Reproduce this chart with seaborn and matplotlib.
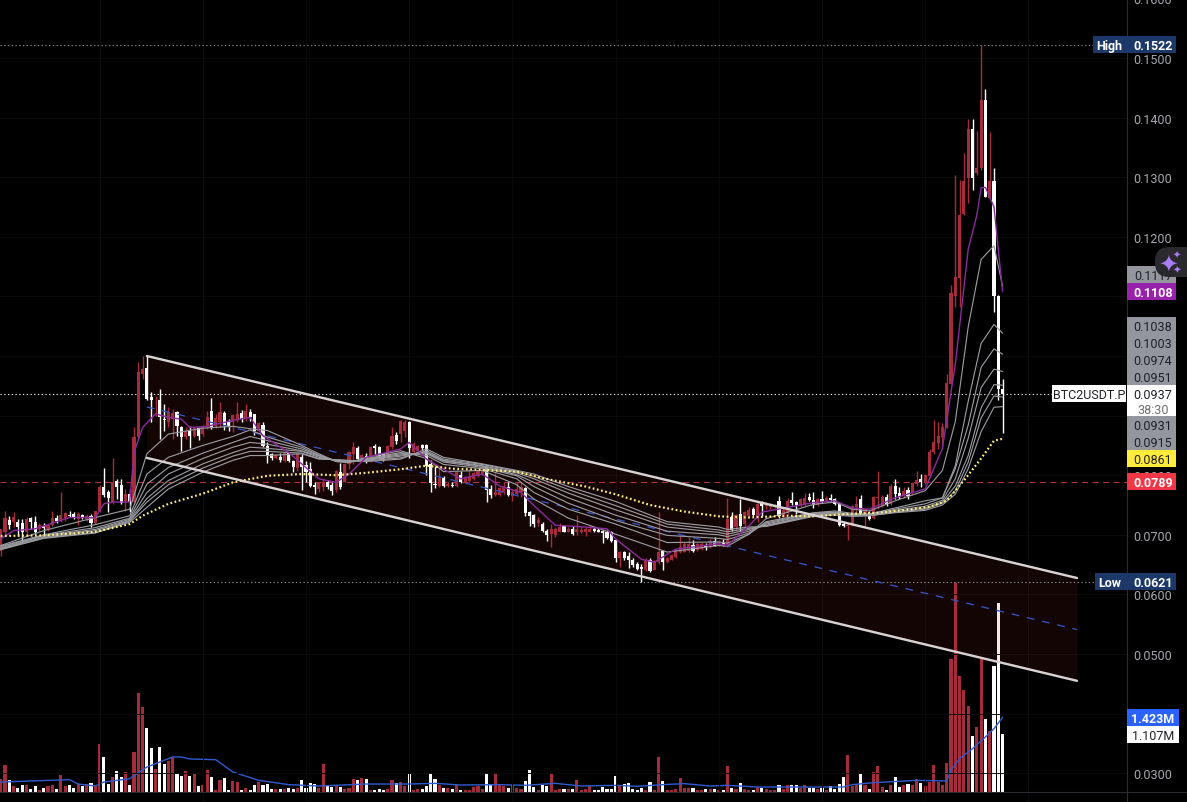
import numpy as np
import pandas as pd
import matplotlib
matplotlib.use("Agg")
import matplotlib.pyplot as plt
import seaborn as sns
from matplotlib.patches import Rectangle, FancyBboxPatch

# ---------- data (prices are written in units of 0.0001) ----------
opens = [673.5,704.3,724.9,722.2,722.2,720,704.3,727.8,722.2,709.9,
715.5,709.9,716.6,728.3,723.8,728.3,733.9,735,726.6,732.8,
726.6,732.2,720,739.5,779.7,771.4,754.6,789.8,783.7,757.4,
768.6,754.6,863.6,969.8,979.9,931.8,924,926.2,894.3,888.8,
894.3,906.6,880.4,863.6,874.8,866.4,879.2,869.2,880.4,908.3,
883.2,888.8,904.4,888.8,888.8,894.3,904.4,894.3,905.5,902.2,
874.8,884.3,849.6,835.6,828.4,831.2,824.5,838.4,824.5,811.6,
831.2,817.2,810.5,784.2,777,780.9,788.1,784.2,775.8,804.9,
789.3,818.9,835.6,845.7,827.3,832.9,827.3,848.5,846.8,835.6,
828.4,846.8,867.5,869.1,874.7,888.7,839.5,841.2,850.7,850.7,
818.8,785.3,781.3,794.8,781.3,783.6,781.3,800.3,788,790.8,
793.6,798.1,802,813.2,776.9,766.8,766.8,771.3,779.7,765.7,
768.5,772.4,778,737.7,733.8,719.8,718.2,707,701.4,699.7,
705.3,714.3,705.3,709.8,704.2,704.2,705.3,705.3,709.8,708.7,
705.9,705.3,704.2,691.3,660.6,670.7,664,658.4,651.1,645.5,
641.6,658.4,641.6,653.9,673.5,653.9,658.4,662.3,671.8,671.8,
673.5,683.5,675.1,676.3,683.5,679,690.2,681.8,686.3,681.8,
729.4,712.6,734.9,718.2,731,743.3,730.5,753.4,747.8,746.1,
746.1,757.3,730,736.8,758.4,755.6,748.2,749.3,764,758.4,
749.3,759.5,756.7,762.3,760.6,752.7,718.6,714.1,717,747,
759.5,735.7,736.8,728.3,762.3,748.2,764,751,782.2,770.9,
766.3,775.4,769.7,785,793.6,786.8,798.1,839,854.8,864.5,
879.8,953.6,1100,1131.2,1237.8,1298.5,1380.8,1307.1,1315.6,1429,1265.6,1294,1100,945]

closes = [709.9,728.3,717.1,730.5,712.7,705.4,726.6,721,705.4,717.1,
711,717.1,728.3,722.7,733.9,736.7,732.2,728.3,735,729.4,
732.2,720,740.6,779.7,767.4,761.9,789.3,780.3,753.5,768.6,
754.6,863.6,972.6,978.2,927.9,926.2,925.1,898.2,892.7,905.5,
904.4,882,864.7,874.8,866.4,878.7,866.4,882,897.1,880.4,
895.5,906.6,884.3,883.2,901,902.2,894.3,908.3,897.7,874.8,
887.6,849.6,834.5,828.4,834,826.1,838.4,823.3,813.3,835.6,
813.3,806,782.5,779.7,787,788.1,779.7,774.2,807.7,779.7,
818.9,839.6,846.8,827.3,834.5,824.5,847.9,845.1,831.7,828.4,
849.6,866.4,856.9,891.5,888.7,845.1,852.3,849.5,845.1,816,
786.9,783.6,794.8,781.3,785.3,781.3,804.8,789.2,796.4,796.4,
803.7,807.6,808.7,775.8,766.8,771.3,778,779.7,766.8,771.3,
776.9,779.7,736.6,732.2,718.2,725.4,707,699.7,709.8,709.8,
712.6,705.3,709.8,700.8,709.8,708.7,709.8,709.8,707,705.3,
703.1,694.7,690.2,660.6,670.7,660.6,658.4,650,642.7,642.7,
658.4,639.4,656.7,671.8,653.9,660.6,666.2,675.1,679,684.6,
684.6,672.3,684.6,684.6,679,690.2,681.8,687.4,683.5,726.6,
708.7,733.3,715.4,737.7,741.6,733.8,751.7,747.8,751.7,750,
748.9,731,741.3,756.7,752.7,749.3,759.5,762.3,758.4,749.3,
760.6,755,762.3,758.4,752.1,717,714.1,717,748.2,751,
735.7,742.5,727.2,764,764,764,751,782.2,768,764,
773.7,765.2,786.8,792.4,787.9,800.4,839,856,865.6,881.5,
955.3,1105.6,1132.9,1236.1,1294,1380.8,1298.5,1315.6,1429,1267.3,1292.9,1100,943.9,937]

highs = [709.9,740.6,732.2,737.8,726.6,726.6,729.4,730.5,732.2,719.4,
719.4,718.3,740.6,733.9,771.4,737.8,740.6,737.8,737.8,735,
735,735,740.6,784.2,811.6,775.8,828.4,793.7,793.7,777,
777,880.4,989.4,1000.6,1000.6,939,932.4,944.6,919.5,913.9,
911.1,908.3,883.2,880.4,883.2,880.4,880.4,884.3,908.3,929,
902.7,922.3,908.3,894.3,902.7,922.3,910,919.5,911.1,902.7,
888.8,888.8,855.2,836.8,835.6,837.3,841.2,839.5,826.1,838.4,
835.6,824.5,821.7,788.1,788.1,793.7,792,788.1,808.8,820,
820,841.2,855.2,848.5,835.6,836.8,849.6,851.9,849.6,836.8,
850.7,880.4,872,893.1,893.1,891.5,855.1,850.7,852.3,852.3,
825.5,816,813.2,798.1,788,788,809.3,807,798.1,810.4,
806,809.3,810.4,816,783.6,804.8,779.7,788,788,776.9,
788,789.2,779.7,740.5,734.9,729.4,721,709.8,718.2,712.6,
719.8,716.5,712.6,714.3,733.3,714.3,712.6,716.5,712.6,710.9,
708.1,708.1,707,693,673.5,673.5,671.8,660.6,653.9,651.1,
660.6,660.6,658.4,737.7,675.1,662.3,667.9,676.3,698.6,688.5,
695.8,691.9,686.3,687.4,686.3,693,695.8,691.9,693,761.8,
737.7,734.9,760.1,740.5,746.1,746.1,754.5,757.3,755.6,753.4,
751.7,765.7,745.3,762.3,772,756.7,762.3,769.7,770.9,772,
762.3,773.7,765.2,768,762.3,755,722.6,719.8,749.3,765.2,
766.3,745.3,739.6,765.2,807.7,766.3,768,785,793.6,779.4,
779.4,779.4,787.9,807.7,802.1,802.1,844.6,892.9,890,887.2,
969.4,1119.8,1304.2,1295.7,1341.1,1397.8,1397.8,1378,1522,1447.2,1375.1,1315.6,1102.8,962.1]

lows = [665.2,698.7,709.9,712.7,698.7,688.6,698.7,709.9,701.5,707.1,
698.7,707.1,715.5,719.9,721,723.8,729.4,726.6,716.6,726.6,
723.8,713.8,718.3,737.8,763,738.9,751.8,760.2,751.8,740.6,
737.8,751.8,861.9,961.4,926.8,888.8,899.9,860.8,874.8,880.4,
860.8,866.4,841.2,860.8,845.7,863.6,859.7,866.4,877.6,877.6,
878.7,880.4,876.5,874.8,872,888.8,888.8,891.5,891.5,867.5,
872,846.8,820.5,826.1,827.3,821.7,822.8,821.7,804.9,807.7,
775.8,788.1,779.7,768.6,771.4,774.2,777,766.9,771.4,777,
788.1,810.5,818.9,824.5,824.5,820.5,822.8,835.6,828.4,824.5,
827.3,844,852.4,855.1,863.5,828.3,835.6,838.4,842.8,800.3,
772.4,778,779.7,779.7,779.7,779.7,779.7,786.9,786.9,788,
792,796.4,800.3,755.6,761.2,765.7,765.7,768.5,764.6,757.3,
765.7,762.9,731,714.3,712.6,715.4,705.3,690.2,679,695.8,
704.2,704.2,704.2,699.7,699.7,703.1,698.6,704.2,704.2,704.2,
686.3,693,688.5,653.9,645.5,658.4,643.8,645.5,641.6,621,
639.9,637.1,640.5,651.1,641.6,652.8,657.2,660.6,669.5,670.7,
671.8,670.7,673.5,675.1,675.1,677.9,680.7,680.7,680.7,679,
707,707,707,712.6,729.4,731,721,731,743.3,743.3,
744.4,727.7,728.3,735.7,749.3,735.7,747,748.2,756.7,745.3,
748.2,753.8,755.6,755.6,749.3,714.1,712.4,691.4,715.3,731.1,
731.1,715.3,725.5,726.6,742.5,747,748.2,749.3,759.5,760.6,
762.3,759.5,768,782.2,779.4,785,796.4,836.1,844.6,847.5,
878.7,952.4,1082.9,1082.9,1236.1,1256,1278.7,1304.2,1312.7,1266.2,1261.7,1074.4,926.9,870.2]

# volume in millions
volumes = [.254,.521,.235,.108,.083,.127,.140,.063,.108,.044,
.083,.108,.140,.063,.330,.108,.127,.083,.152,.108,
.152,.178,.127,.921,.667,.159,.286,.406,.286,.387,
.140,.768,1.892,1.625,1.225,.844,.444,.863,.540,.584,
.667,.349,.311,.406,.311,.349,.108,.140,.425,.292,
.044,.235,.273,.044,.216,.197,.044,.083,.044,.140,
.197,.140,.159,.063,.063,.063,.063,.083,.063,.083,
.235,.083,.178,.159,.083,.540,.140,.102,.140,.102,
.063,.083,.254,.235,.273,.254,.044,.044,.063,.044,
.063,.235,.178,.197,.121,.368,.044,.063,.063,.121,
.368,.254,.140,.083,.083,.063,.140,.044,.044,.044,
.102,.121,.063,.368,.159,.349,.140,.121,.083,.140,
.083,.063,.216,.425,.102,.044,.140,.121,.349,.044,
.063,.063,.063,.063,.235,.044,.063,.121,.044,.044,
.102,.063,.063,.311,.140,.159,.178,.063,.044,.083,
.044,.197,.044,.673,.216,.044,.044,.063,.273,.083,
.083,.083,.044,.044,.063,.063,.063,.044,.044,.502,
.083,.063,.178,.063,.044,.044,.095,.083,.063,.044,
.044,.140,.063,.140,.140,.140,.083,.140,.083,.083,
.063,.083,.044,.121,.063,.159,.292,.711,.121,.159,
.349,.140,.063,.387,.502,.102,.044,.140,.292,.102,
.140,.159,.140,.254,.178,.121,.197,.521,.197,.140,
.559,2.540,3.987,2.216,1.949,1.644,1.073,1.244,2.559,1.397,1.168,2.406,3.606,1.107]

vol_ma_idx = [0,16,18,22,24,30,34,38,40,42,44,50,54,60,67,74,85,95,101,107,116,122,129,135,143,148,154,159,165,169,176,182,196,198,203,213,220,221,223,226,229,231,233]
vol_ma = [.19,.235,.152,.114,.19,.254,.476,.603,.667,.667,.629,.616,.381,.222,.140,.114,.152,.152,.165,.133,.140,.127,.165,.114,.127,.108,.14,.159,.114,.127,.095,.095,.095,.140,.178,.222,.21,.413,.635,.825,1.048,1.206,1.423]

ribbon_idx = [0,10,22,30,34,39,47,54,58,62,70,74,78,81,85,93,99,103,112,120,124,132,143,155,167,169,174,178,189,194,198,202,208,215,219,222,225,228,231,233]
ribbon_1 = [682,707,729,743,836,869,879,882,878,875,850,836,823,821,830,841,828,806,808,784,760,728,701,671,682,681,701,727,751,755,743,740,757,774,808,890,1049,1162,1185,1117]
ribbon_2 = [681,700,717,732,802,830,850,865,876,864,847,834,823,822,828,838,833,818,811,794,771,743,718,687,688,686,701,722,737,740,736,735,745,757,762,816,924,1021,1053,1038]
ribbon_3 = [680,699,712,728,785,813,837,855,865,858,844,833,824,822,827,836,836,822,813,799,781,753,724,699,694,692,703,720,736,738,734,734,743,752,762,811,884,981,1012,1003]
ribbon_4 = [678,698,709,726,771,802,828,847,855,852,841,832,824,823,826,834,838,824,815,801,788,762,733,706,700,697,706,718,735,737,733,733,741,748,758,794,862,947,978,974]
ribbon_5 = [677,696,707,724,761,791,819,838,847,845,840,830,825,823,825,832,839,825,816,804,794,770,742,713,704,701,709,716,733,736,732,733,739,745,755,782,833,913,952,951]
ribbon_6 = [676,695,704,723,755,784,812,832,840,840,837,828,826,824,824,829,841,827,818,806,798,776,749,718,708,705,711,715,732,735,732,732,738,743,753,774,822,896,933,931]
ribbon_7 = [675,694,703,721,746,777,805,825,833,833,836,827,826,825,823,827,844,830,819,808,802,781,756,722,713,709,713,714,731,733,731,732,737,741,750,768,811,873,914,915]

fast_idx = [0,3,8,16,22,24,26,30,31,33,36,39,42,44,48,54,58,61,64,67,70,74,78,81,85,93,95,99,103,107,112,116,121,124,129,136,141,143,149,152,157,167,169,174,177,189,194,198,202,208,215,219,222,225,227,228,229,231,233]
fast_ma = [693,707,710,729,729,752,755,755,838,880,903,897,894,880,882,892,897,866,852,838,819,794,788,802,830,844,855,827,810,794,802,782,771,749,716,713,710,693,659,654,676,685,682,715,738,754,757,745,743,762,777,845,986,1179,1236,1282,1283,1250,1108]

slow_idx = [0,10,22,30,33,39,47,54,62,70,78,85,93,99,105,112,120,126,136,143,151,159,167,174,183,189,197,204,212,216,220,224,228,231,233]
slow_ma = [698,699,705,718,732,752,769,788,799,802,800,804,810,816,811,809,806,795,781,768,750,739,731,729,732,731,735,737,743,747,757,791,828,858,861]

channel_x = [34, 250.3]
channel_top = [1000, 627.5]
channel_mid = [914.5, 541]
channel_bot = [829, 455]

level_high, level_low, level_last, level_red = 1522, 621, 937, 789
price_ticks = [300,400,500,600,700,800,900,1000,1100,1200,1300,1400,1500,1600]
hidden_ticks = [900, 1000, 1100]  # covered by the value badges in the picture

# ---------- styling ----------
W, H = 1187, 803
RED, WHITE = "#a62c3c", "#ffffff"
sns.set_theme(style="dark", rc={"figure.facecolor": "black", "axes.facecolor": "black",
                                "savefig.facecolor": "black"})
plt.rcParams["font.family"] = ["Roboto", "DejaVu Sans"]
U = 1e-4
px = 0.72  # points per pixel at dpi 100

fig = plt.figure(figsize=(W / 100, H / 100), dpi=100)
rect = [0, 0, 1127 / W, 813 / H]
ax_vol = fig.add_axes(rect, zorder=1)
ax = fig.add_axes(rect, zorder=2)
ax.patch.set_alpha(0)

n = len(opens)
idx = np.arange(n)
df = pd.DataFrame({"i": idx, "o": opens, "h": highs, "l": lows, "c": closes, "v": volumes})
df[["o", "h", "l", "c"]] *= U
df["side"] = np.where(df.c >= df.o, "up", "down")
pal = {"up": RED, "down": WHITE}
cols = df.side.map(pal).to_numpy()

# volume pane
sns.barplot(data=df, x="i", y="v", hue="side", palette=pal, dodge=False, native_scale=True,
            width=0.72, legend=False, ax=ax_vol, saturation=1, linewidth=0)
sns.lineplot(x=vol_ma_idx, y=vol_ma, color="#2f5bd0", lw=1.4 * px, estimator=None,
             sort=False, ax=ax_vol, zorder=4)
xlim = (-0.163, 261.93)
ax_vol.set_xlim(*xlim)
ax_vol.set_ylim(-10 / 52.5, 803 / 52.5)
ax_vol.set_axis_off()

# faint grid
grid_x = list(range(23, 262, 24))
ax.set_xticks(grid_x)
ax.set_xticklabels([])
ax.set_yticks(np.array(price_ticks) * U)
ax.set_yticklabels(["" if t in hidden_ticks else f"{t * U:.4f}" for t in price_ticks])
ax.grid(True, color="#0b0b0d", lw=0.7, zorder=0)
ax.set_axisbelow(True)
ax.yaxis.tick_right()
ax.tick_params(axis="y", length=0, pad=4.6, labelsize=9.0, labelcolor="#a6a8ae")
ax.tick_params(axis="x", length=0)
for s in ("left", "top", "bottom"):
    ax.spines[s].set_visible(False)
ax.spines["right"].set_color("#2c2d33")
ax.spines["right"].set_linewidth(0.8)

# channel
ch_top, ch_mid, ch_bot = (np.array(a) * U for a in (channel_top, channel_mid, channel_bot))
ax.fill_between(channel_x, ch_bot, ch_top, color=(0.75, 0.2, 0.2), alpha=0.11, lw=0, zorder=1)

# reference levels
ax.axhline(level_red * U, color="#b5303f", lw=1.1 * px, ls=(0, (6 / 1.1, 4.5 / 1.1)), zorder=1.5)
ax.plot([xlim[0], (1052 - .7) / 4.3], [level_last * U] * 2, color="#e8e8e8", lw=1.1 * px,
        ls=(0, (1.2, 2.2)), zorder=1.5)
for lev in (level_high, level_low):
    ax.plot([xlim[0], (1094 - .7) / 4.3], [lev * U] * 2, color="#8c8c8c", lw=1.1 * px,
            ls=(0, (1.2, 2.2)), zorder=1.5)

# candles
ax.vlines(df.i, df.l, df.h, colors=cols, lw=1.4 * px, zorder=3)
ax.bar(df.i, np.abs(df.c - df.o).clip(lower=1.2e-4), bottom=np.minimum(df.c, df.o),
       width=0.72, color=cols, lw=0, zorder=3.2)

# ribbon & averages
for r in (ribbon_7, ribbon_6, ribbon_5, ribbon_4, ribbon_3, ribbon_2, ribbon_1):
    sns.lineplot(x=ribbon_idx, y=np.array(r) * U, color="#9a9ba0", lw=1.15 * px, estimator=None,
                 sort=False, ax=ax, zorder=4)
sns.lineplot(x=fast_idx, y=np.array(fast_ma) * U, color="#8a2c9c", lw=1.4 * px, estimator=None,
             sort=False, ax=ax, zorder=4.2)
sns.lineplot(x=slow_idx, y=np.array(slow_ma) * U, color="#fff07a", lw=2.2 * px, estimator=None,
             sort=False, ax=ax, zorder=4.3, linestyle=(0, (0.8, 1.15)))

# channel lines
sns.lineplot(x=channel_x, y=ch_mid, color="#3555c5", lw=1.3 * px, estimator=None, sort=False, ax=ax,
             zorder=3.6, linestyle=(0, (6, 6)))
for line in (ch_top, ch_bot):
    sns.lineplot(x=channel_x, y=line, color="#d9d2d2", lw=2.4 * px, estimator=None, sort=False,
                 ax=ax, zorder=5)

ax.set_xlim(*xlim)
ax.set_ylim(0.15 - 744 / 5960, 0.15 + 69 / 5960)
ax.set_xlabel("")
ax.set_ylabel("")

# ---------- price-scale badges on a pixel overlay ----------
ov = fig.add_axes([0, 0, 1, 1], zorder=10)
ov.set_xlim(0, W)
ov.set_ylim(H, 0)
ov.set_axis_off()
ov.patch.set_alpha(0)
ov.plot([0, W], [793, 793], color="#2a2b30", lw=0.8)
ov.plot([1127, 1127], [793, 803], color="#2c2d33", lw=0.8)


def box(x0, x1, y0, y1, c):
    ov.add_patch(Rectangle((x0, y0), x1 - x0, y1 - y0, color=c, lw=0))


def label(x, y, s, c, **k):
    ov.text(x, y, s, color=c, ha="center", va="center_baseline", fontsize=k.pop("fontsize", 9.0), **k)


VX = 1153
NAVY, GREY, DARK = "#1c3868", "#94969e", "#202125"
box(1093, 1176, 37, 54, NAVY)
label(1109, 45.2, "High", "white", fontweight="bold")
label(VX, 45.5, "0.1522", "white", fontweight="bold")
box(1095, 1176, 574, 591, NAVY)
label(1110, 582.5, "Low", "white", fontweight="bold")
label(VX, 582.5, "0.0621", "white", fontweight="bold")

box(1127, 1176, 267, 284, GREY)
label(VX, 275.5, "0.1117", DARK)
box(1127, 1176, 284, 301, "#9a21ab")
label(VX, 292.5, "0.1108", "white", fontweight="bold")
box(1127, 1176, 318, 386, GREY)
for y, s in zip((326.5, 343.5, 360.5, 377.5), ("0.1038", "0.1003", "0.0974", "0.0951")):
    label(VX, y, s, DARK)
box(1127, 1176, 386, 417, "white")
label(VX, 394.5, "0.0937", DARK)
label(VX, 409, "38:30", "#6e6e6e")
box(1127, 1176, 417, 451, GREY)
label(VX, 425.5, "0.0931", DARK)
label(VX, 442.5, "0.0915", DARK)
box(1127, 1176, 451, 468, "#ffeb3b")
label(VX, 459.5, "0.0861", DARK)
box(1127, 1176, 474, 491, "#f23645")
label(VX, 482.5, "0.0789", "white", fontweight="bold")
box(1052, 1126, 386, 403, "white")
label(1089, 394.5, "BTC2USDT.P", DARK)
box(1127, 1179, 710, 727, "#2962ff")
label(1153, 718.5, "1.423M", "white", fontweight="bold")
box(1127, 1179, 727, 744, "white")
label(1153, 735.5, "1.107M", DARK)

# assistant button
ov.add_patch(FancyBboxPatch((1155, 248), 50, 30, boxstyle="round,pad=0,rounding_size=14",
                            fc="#29292e", ec="none", lw=0))
ov.text(1168, 264, "\u2726", color="#a97df5", fontsize=17, ha="center", va="center", family="DejaVu Sans")
ov.text(1177, 256, "\u2726", color="#a97df5", fontsize=7, ha="center", va="center", family="DejaVu Sans")
ov.text(1177, 271, "\u2726", color="#a97df5", fontsize=7.5, ha="center", va="center", family="DejaVu Sans")

fig.savefig("out.png", dpi=100, facecolor="black")
